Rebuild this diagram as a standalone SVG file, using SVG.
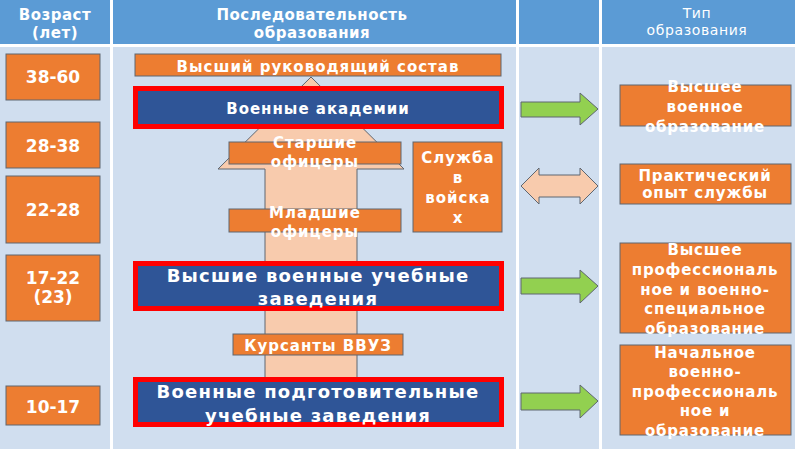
<svg xmlns="http://www.w3.org/2000/svg" width="800" height="449" viewBox="0 0 800 449">
<defs>
<style>
.hdr{fill:#5B9BD5}
.body{fill:#D0DEEF}
.or{fill:#ED7D31;stroke:#5E6670;stroke-width:1}
.bl{fill:#2F5597;stroke:#FF0000;stroke-width:5}
.grn{fill:#92D050;stroke:#5E6670;stroke-width:1}
.pch{fill:#F8CBAD;stroke:#5E6670;stroke-width:1}
text{font-family:"DejaVu Sans","Liberation Sans",sans-serif;fill:#FFFFFF;text-anchor:middle}
.h{font-size:15px;font-weight:bold;letter-spacing:0.5px}
.hr{font-size:14px;letter-spacing:0.6px}
.age{font-size:17px;font-weight:bold}
.m{font-size:15px;font-weight:bold;letter-spacing:1px}
.big{font-size:18px;font-weight:bold;letter-spacing:1.2px}
.r{font-size:15px;font-weight:bold;letter-spacing:0.8px}
</style>
</defs>
<rect x="0" y="0" width="800" height="449" fill="#FFFFFF"/>
<g id="table">
<rect class="hdr" x="0" y="0" width="110" height="44"/>
<rect class="hdr" x="113" y="0" width="403" height="44"/>
<rect class="hdr" x="519" y="0" width="80" height="44"/>
<rect class="hdr" x="602" y="0" width="193" height="44"/>
<rect class="body" x="0" y="47" width="110" height="402"/>
<rect class="body" x="113" y="47" width="403" height="402"/>
<rect class="body" x="519" y="47" width="80" height="402"/>
<rect class="body" x="602" y="47" width="193" height="402"/>
<text class="h" x="55" y="20">Возраст</text>
<text class="h" x="55" y="38">(лет)</text>
<text class="h" x="312" y="20">Последовательность</text>
<text class="h" x="312" y="38">образования</text>
<text class="hr" x="697" y="18">Тип</text>
<text class="hr" x="697" y="35">образования</text>
</g>
<g id="age-38-60"><rect class="or" x="6" y="54" width="94" height="46"/><text class="age" x="53" y="83">38-60</text></g>
<g id="age-28-38"><rect class="or" x="6" y="122" width="94" height="46"/><text class="age" x="53" y="152">28-38</text></g>
<g id="age-22-28"><rect class="or" x="6" y="176" width="94" height="67"/><text class="age" x="53" y="216">22-28</text></g>
<g id="age-17-22"><rect class="or" x="6" y="255" width="94" height="66"/><text class="age" x="53" y="284">17-22</text><text class="age" x="53" y="303">(23)</text></g>
<g id="age-10-17"><rect class="or" x="6" y="386" width="94" height="39"/><text class="age" x="53" y="413">10-17</text></g>
<g id="big-arrow"><polygon class="pch" points="311,77 404,169 357,169 357,380 265,380 265,169 218,169"/></g>
<g id="top-command"><rect class="or" x="135" y="54" width="366" height="22"/><text class="m" x="318" y="72">Высший руководящий состав</text></g>
<g id="academies"><rect class="bl" x="135.5" y="88.5" width="366" height="38"/><text class="m" x="318" y="114">Военные академии</text></g>
<g id="senior-officers"><rect class="or" x="229" y="142" width="172" height="22"/><text class="m" x="315" y="148">Старшие</text><text class="m" x="315" y="167">офицеры</text></g>
<g id="junior-officers"><rect class="or" x="229" y="209" width="172" height="23"/><text class="m" x="315" y="218">Младшие</text><text class="m" x="315" y="237">офицеры</text></g>
<g id="service"><rect class="or" x="413" y="142" width="89" height="90"/><text class="m" x="458" y="163">Служба</text><text class="m" x="458" y="183">в</text><text class="m" x="458" y="203">войска</text><text class="m" x="458" y="223">х</text></g>
<g id="higher-schools"><rect class="bl" x="135.5" y="263.5" width="366" height="45"/><text class="big" x="318" y="282">Высшие военные учебные</text><text class="big" x="318" y="305">заведения</text></g>
<g id="cadets"><rect class="or" x="233" y="334" width="170" height="21"/><text class="m" x="318" y="351">Курсанты ВВУЗ</text></g>
<g id="prep-schools"><rect class="bl" x="135.5" y="379.5" width="366" height="45"/><text class="big" x="318" y="398">Военные подготовительные</text><text class="big" x="318" y="422">учебные заведения</text></g>
<g id="connectors">
<polygon class="grn" points="521,102 580,102 580,93 598,109 580,125 580,117 521,117"/>
<polygon class="pch" points="521,186 539,168 539,175 580,175 580,168 598,186 580,204 580,197 539,197 539,204"/>
<polygon class="grn" points="521,278 580,278 580,270 598,286 580,303 580,294 521,294"/>
<polygon class="grn" points="521,393 580,393 580,385 598,401 580,418 580,410 521,410"/>
</g>
<g id="type-higher-military"><rect class="or" x="620" y="85" width="171" height="41"/><text class="r" x="705" y="92">Высшее</text><text class="r" x="705" y="112">военное</text><text class="r" x="705" y="132">образование</text></g>
<g id="type-practice"><rect class="or" x="620" y="164" width="171" height="40"/><text class="r" x="705" y="181">Практический</text><text class="r" x="705" y="198">опыт службы</text></g>
<g id="type-higher-prof"><rect class="or" x="620" y="243" width="171" height="90"/><text class="r" x="705" y="255">Высшее</text><text class="r" x="705" y="275">профессиональ</text><text class="r" x="705" y="295">ное и военно-</text><text class="r" x="705" y="314">специальное</text><text class="r" x="705" y="334">образование</text></g>
<g id="type-initial"><rect class="or" x="620" y="345" width="171" height="90"/><text class="r" x="705" y="358">Начальное</text><text class="r" x="705" y="377">военно-</text><text class="r" x="705" y="397">профессиональ</text><text class="r" x="705" y="416">ное и</text><text class="r" x="705" y="436">образование</text></g>
</svg>
